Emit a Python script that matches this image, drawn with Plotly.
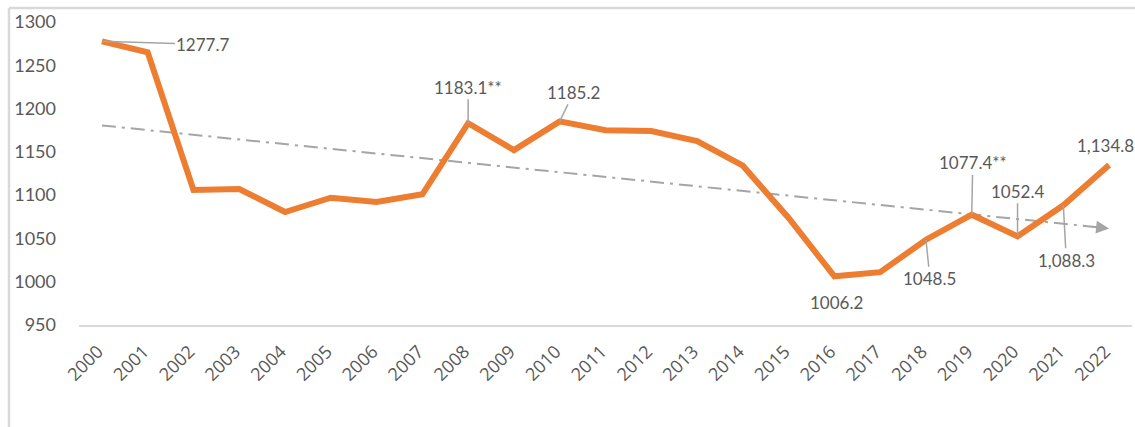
import numpy as np
import plotly.graph_objects as go

years = list(range(2000, 2023))
values = [1277.7, 1265.0, 1106.0, 1107.0, 1080.5, 1097.0, 1092.0, 1101.0, 1183.1, 1152.0,
          1185.2, 1175.0, 1174.0, 1162.5, 1134.0, 1073.6, 1006.2, 1011.0, 1048.5, 1077.4,
          1052.4, 1088.3, 1134.8]
tick_labels = [str(y) for y in years]
y_ticks = [950, 1000, 1050, 1100, 1150, 1200, 1250, 1300]

# labelled points: year, text, x offset px, y offset px, leader line
labels = [
    (2000, "1277.7", 101, 3, True),
    (2008, "1183.1**", 0, -36, True),
    (2010, "1185.2", 14, -29, True),
    (2016, "1006.2", 2, 26, False),
    (2018, "1048.5", 4, 39, True),
    (2019, "1077.4**", 1, -52, True),
    (2020, "1052.4", 0, -45, True),
    (2021, "1,088.3", 3, 55, True),
    (2022, "1,134.8", -4, -20, False),
]

GRAY_TXT = "#595959"
ORANGE = "#ED7D31"
TREND = "#A5A5A5"

fig = go.Figure()

# linear trendline derived from the data
coef = np.polyfit(years, values, 1)
tx = [2000, 2022]
ty = [coef[0] * x + coef[1] for x in tx]
fig.add_trace(go.Scatter(x=tx, y=ty, mode="lines",
                         line=dict(color=TREND, width=2, dash="14px,6px,3px,6px"),
                         hoverinfo="skip", showlegend=False))

fig.add_trace(go.Scatter(x=years, y=values, mode="lines",
                         line=dict(color=ORANGE, width=6),
                         showlegend=False))

# arrow head on trendline
x_tail = 2021.6
fig.add_annotation(x=tx[1], y=ty[1], ax=x_tail, ay=coef[0] * x_tail + coef[1],
                   xref="x", yref="y", axref="x", ayref="y", text="",
                   showarrow=True, arrowhead=2, arrowsize=1.3, arrowwidth=2,
                   arrowcolor=TREND)

val_map = dict(zip(years, values))
for yr, txt, dx, dy, leader in labels:
    fig.add_annotation(x=yr, y=val_map[yr], text=txt, xref="x", yref="y",
                       showarrow=True, ax=dx, ay=dy,
                       arrowhead=0, arrowwidth=1.5,
                       arrowcolor=TREND if leader else "rgba(0,0,0,0)",
                       font=dict(family="Lato, sans-serif", size=17, color=GRAY_TXT))

# outer chart frame (left and top)
fig.add_shape(type="line", xref="paper", yref="paper", x0=-0.0665, x1=1.01,
              y0=1.046, y1=1.046, line=dict(color="#D9D9D9", width=2.5))
fig.add_shape(type="line", xref="paper", yref="paper", x0=-0.0665, x1=-0.0665,
              y0=1.046, y1=-0.35, line=dict(color="#D9D9D9", width=2.5))

fig.update_layout(
    width=1135, height=427,
    margin=dict(l=79, r=3, t=22, b=102, autoexpand=False),
    paper_bgcolor="white", plot_bgcolor="white",
    xaxis=dict(range=[1999.5, 2022.5], tickvals=years, ticktext=tick_labels,
               tickangle=-45, showgrid=False, zeroline=False, automargin=False,
               showline=True, linecolor="#D9D9D9", linewidth=2,
               ticklabelstandoff=7, ticklabelshift=-4,
               ticks="", tickfont=dict(family="Open Sans, sans-serif", size=18, color=GRAY_TXT)),
    yaxis=dict(range=[950, 1300], tickvals=y_ticks, showgrid=False, zeroline=False,
               showline=False, ticks="", ticklabelstandoff=22, automargin=False,
               tickfont=dict(family="Lato, sans-serif", size=18, color=GRAY_TXT)),
)

fig.write_html("out.html", config={"displayModeBar": False},
               post_script="document.body.style.margin='0';")
